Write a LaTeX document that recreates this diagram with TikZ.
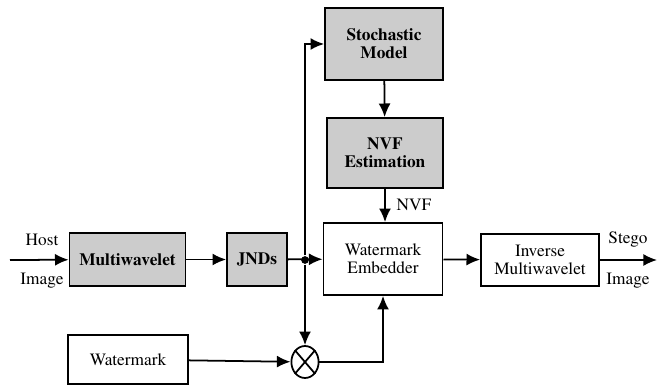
\documentclass[tikz,border=0pt]{standalone}
\usepackage[T1]{fontenc}
\usepackage{times}
\usepackage{tikz}
\usetikzlibrary{arrows.meta,shapes.geometric}

\begin{document}
\begin{tikzpicture}[x=0.025cm,y=-0.025cm,line width=1.25pt,
  font=\rmfamily\fontsize{12.3}{13}\selectfont,
  blk/.style={rectangle,draw,align=center,inner sep=1pt},
  shd/.style={blk,fill=black!20,font=\rmfamily\fontsize{12.3}{13}\selectfont\bfseries},
  arr/.style={-{Latex[length=3.4mm,width=3mm]}}]
\useasboundingbox (0,0) rectangle (664,385);

\node[shd,minimum width=2.9cm,minimum height=1.33cm] (mw) at (127.5,259.5) {Multiwavelet};
\node[shd,minimum width=1.5cm,minimum height=1.33cm] (jnd) at (257,259.5) {JNDs};
\node[shd,minimum width=2.95cm,minimum height=1.8cm] (sm) at (384,44) {Stochastic\\Model};
\node[shd,minimum width=2.9cm,minimum height=1.75cm] (nvf) at (385,153) {NVF\\Estimation};
\node[blk,minimum width=2.98cm,minimum height=1.8cm] (emb) at (383,259) {Watermark\\Embedder};
\node[blk,minimum width=2.95cm,minimum height=1.3cm] (inv) at (540,260) {Inverse\\Multiwavelet};
\node[blk,minimum width=3cm,minimum height=1.22cm] (wm) at (128,359.5) {Watermark};
\node[ellipse,draw,minimum width=0.68cm,minimum height=0.8cm,inner sep=0pt] (mul) at (305,362) {};
\draw (mul.north west) -- (mul.south east);
\draw (mul.north east) -- (mul.south west);

\coordinate (in) at (10,260);
\coordinate (out) at (657,260);
\node[circle,fill,inner sep=0pt,minimum size=5.5pt] (dot) at (305,260) {};

\node (host) at (42,240) {Host};
\node (himg) at (42,281) {Image};
\node (stego) at (628,240) {Stego};
\node (simg) at (628,281) {Image};
\node (nvflab) at (414,205) {NVF};

\draw[arr] (in) -- (mw);
\draw[arr] (mw) -- (jnd);
\draw[arr] (jnd) -- (emb);
\draw[arr] (dot) |- (sm);
\draw[arr] (dot) -- (mul);
\draw[arr] (sm) -- (nvf);
\draw[arr] (nvf.south) -- (nvf.south |- emb.north);
\draw[arr] (wm) -- (mul);
\draw[arr] (mul.east) -| (emb.south);
\draw[arr] (emb) -- (inv);
\draw[arr] (inv) -- (out);
\end{tikzpicture}
\end{document}
